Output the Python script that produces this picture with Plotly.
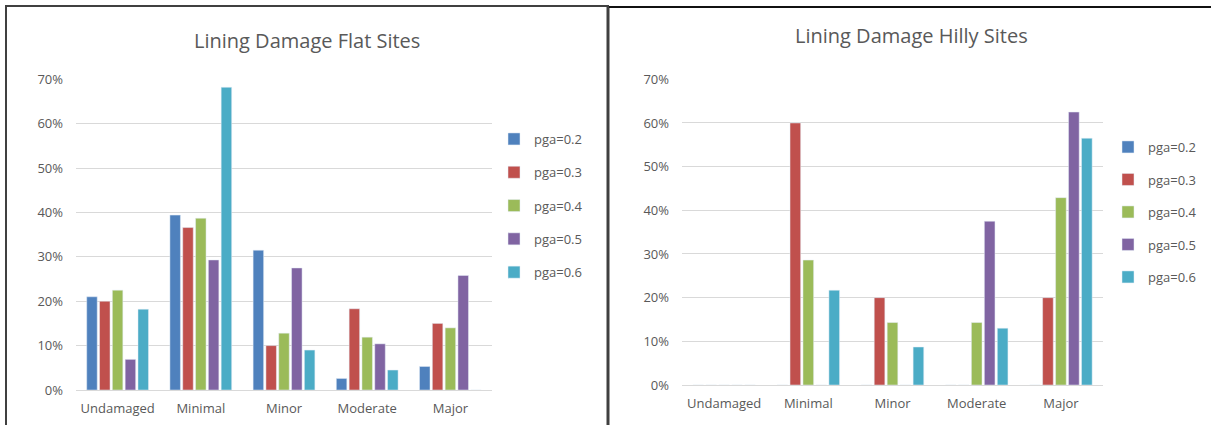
import plotly.graph_objects as go

W, H = 1211, 425

categories = ["Undamaged", "Minimal", "Minor", "Moderate", "Major"]
series_names = ["pga=0.2", "pga=0.3", "pga=0.4", "pga=0.5", "pga=0.6"]
colors = ["#4F81BD", "#C0504D", "#9BBB59", "#8064A2", "#4BACC6"]

# Flat sites: share of lining damage per state
flat_pga02 = [0.210, 0.394, 0.315, 0.026, 0.053]
flat_pga03 = [0.200, 0.366, 0.100, 0.183, 0.150]
flat_pga04 = [0.225, 0.387, 0.128, 0.119, 0.140]
flat_pga05 = [0.069, 0.293, 0.275, 0.104, 0.258]
flat_pga06 = [0.182, 0.682, 0.090, 0.045, 0.000]

# Hilly sites
hilly_pga02 = [0.0, 0.0, 0.0, 0.0, 0.0]
hilly_pga03 = [0.0, 0.600, 0.200, 0.0, 0.200]
hilly_pga04 = [0.0, 0.286, 0.143, 0.143, 0.429]
hilly_pga05 = [0.0, 0.0, 0.0, 0.375, 0.625]
hilly_pga06 = [0.0, 0.217, 0.087, 0.130, 0.565]

flat = [flat_pga02, flat_pga03, flat_pga04, flat_pga05, flat_pga06]
hilly = [hilly_pga02, hilly_pga03, hilly_pga04, hilly_pga05, hilly_pga06]


def px(x):
    return x / W


def py(y):
    return 1 - y / H


FONT = "Open Sans"
TXT = "#595959"
GRID = "#D9D9D9"

fig = go.Figure()

for i, name in enumerate(series_names):
    fig.add_trace(go.Bar(
        x=categories, y=flat[i], name=name, marker_color=colors[i],
        xaxis="x", yaxis="y", legend="legend", legendgroup="f" + str(i),
        hoverinfo="x+y+name",
    ))
for i, name in enumerate(series_names):
    fig.add_trace(go.Bar(
        x=categories, y=hilly[i], name=name, marker_color=colors[i],
        xaxis="x2", yaxis="y2", legend="legend2", legendgroup="h" + str(i),
        hoverinfo="x+y+name",
    ))

yaxis_common = dict(
    range=[0, 0.7], dtick=0.1, tickformat=".0%", showgrid=True,
    gridcolor=GRID, gridwidth=1, zeroline=True, zerolinecolor=GRID,
    zerolinewidth=1, showline=False, ticks="", ticklen=0,
    ticklabelstandoff=12, automargin=False,
    tickfont=dict(family=FONT, size=13, color=TXT), fixedrange=True,
)
xaxis_common = dict(
    showgrid=False, showline=False, zeroline=False, ticks="",
    ticklabelstandoff=9, automargin=False,
    tickfont=dict(family=FONT, size=13, color=TXT), fixedrange=True,
)

legend_common = dict(
    font=dict(family=FONT, size=13, color=TXT), bgcolor="rgba(0,0,0,0)",
    yanchor="top", xanchor="left", itemclick=False,
)

fig.update_layout(
    width=W, height=H,
    margin=dict(l=0, r=0, t=0, b=0, autoexpand=False),
    paper_bgcolor="white", plot_bgcolor="white",
    barmode="group", bargap=0.23, bargroupgap=0.18,
    showlegend=True,
    xaxis=dict(domain=[px(76), px(492)], anchor="y", **xaxis_common),
    yaxis=dict(domain=[py(390), py(79.3)], anchor="x", **yaxis_common),
    xaxis2=dict(domain=[px(682), px(1103)], anchor="y2", **xaxis_common),
    yaxis2=dict(domain=[py(385), py(79.3)], anchor="x2", **yaxis_common),
    legend=dict(x=px(494), y=py(124), tracegroupgap=13.4, **legend_common),
    legend2=dict(x=px(1108), y=py(132), tracegroupgap=12.6, **legend_common),
    annotations=[
        dict(text="Lining Damage Flat Sites", x=px(307), y=py(40),
             xref="paper", yref="paper", showarrow=False,
             xanchor="center", yanchor="middle",
             font=dict(family=FONT, size=20, color=TXT)),
        dict(text="Lining Damage Hilly Sites", x=px(911), y=py(35),
             xref="paper", yref="paper", showarrow=False,
             xanchor="center", yanchor="middle",
             font=dict(family=FONT, size=20, color=TXT)),
    ],
    shapes=[
        # frame around the flat-sites panel
        dict(type="line", xref="paper", yref="paper", x0=px(5), x1=px(609),
             y0=py(6), y1=py(6), line=dict(color="#404040", width=2)),
        dict(type="line", xref="paper", yref="paper", x0=px(6), x1=px(6),
             y0=py(6), y1=py(425), line=dict(color="#404040", width=2)),
        dict(type="line", xref="paper", yref="paper", x0=px(608), x1=px(608),
             y0=py(6), y1=py(425), line=dict(color="#404040", width=3)),
        # top edge of the hilly-sites panel
        dict(type="line", xref="paper", yref="paper", x0=px(609), x1=px(1211),
             y0=py(7), y1=py(7), line=dict(color="#111111", width=2)),
    ],
)

fig.write_html("out.html")
